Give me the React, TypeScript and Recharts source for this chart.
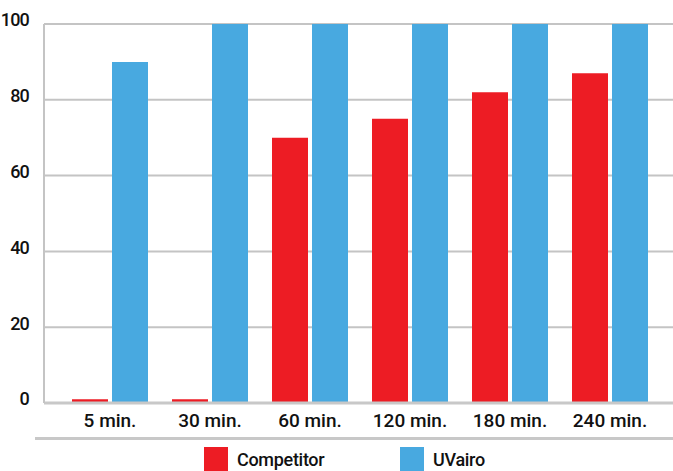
import React from 'react';
import { BarChart, Bar, XAxis, YAxis, CartesianGrid, Legend } from 'recharts';

const categories = ['5 min.', '30 min.', '60 min.', '120 min.', '180 min.', '240 min.'];
const competitorValues = [1, 1, 70, 75, 82, 87];
const uvairoValues = [90, 100, 100, 100, 100, 100];
const yTicks = [0, 20, 40, 60, 80, 100];

const data = categories.map((name, i) => ({
    name,
    competitor: competitorValues[i],
    uvairo: uvairoValues[i],
}));

const FONT = "Roboto, 'Liberation Sans', sans-serif";
const RED = '#ED1C24';
const BLUE = '#48A9E0';

const LegendContent = () => (
    <div style={{ borderTop: '3px solid #c8c8c8', height: 34, position: 'relative', fontFamily: FONT, fontWeight: 500 }}>
        <div style={{ position: 'absolute', left: 169, top: 7, display: 'flex', alignItems: 'center' }}>
            <span style={{ width: 24, height: 24, background: RED, display: 'inline-block' }} />
            <span style={{ marginLeft: 9, fontSize: 18, color: '#111', letterSpacing: -0.3 }}>Competitor</span>
        </div>
        <div style={{ position: 'absolute', left: 365, top: 7, display: 'flex', alignItems: 'center' }}>
            <span style={{ width: 24, height: 24, background: BLUE, display: 'inline-block' }} />
            <span style={{ marginLeft: 9, fontSize: 18, color: '#111', letterSpacing: -0.3 }}>UVairo</span>
        </div>
    </div>
);

const App: React.FC = () => {
    return (
        <div style={{ position: 'absolute', top: 0, left: 0, width: 673, height: 471, background: '#fff' }}>
            <BarChart
                width={673}
                height={471}
                data={data}
                margin={{ top: 24, right: 0, left: 0, bottom: 0 }}
                barSize={36}
                barGap={4}
            >
                <CartesianGrid vertical={false} stroke="#c4c4c4" strokeWidth={2} />
                <XAxis
                    dataKey="name"
                    padding={{ left: 16, right: 13 }}
                    axisLine={{ stroke: '#c8c8c8', strokeWidth: 3 }}
                    tickLine={false}
                    tickMargin={5}
                    height={34}
                    interval={0}
                    tick={{ fill: '#111', fontSize: 19, fontFamily: FONT, fontWeight: 500 }}
                />
                <YAxis
                    width={44}
                    domain={[0, 100]}
                    ticks={yTicks}
                    axisLine={{ stroke: '#c4c4c4', strokeWidth: 2 }}
                    tickLine={false}
                    tickMargin={9}
                    tick={{ fill: '#111', fontSize: 18, fontFamily: FONT, fontWeight: 500, letterSpacing: -0.8, dy: -4 }}
                />
                <Legend
                    verticalAlign="bottom"
                    content={<LegendContent />}
                    wrapperStyle={{ left: 35, width: 638, bottom: 0, height: 34 }}
                />
                <Bar dataKey="competitor" name="Competitor" fill={RED} isAnimationActive={false} />
                <Bar dataKey="uvairo" name="UVairo" fill={BLUE} isAnimationActive={false} />
            </BarChart>
        </div>
    );
};

export default App;
